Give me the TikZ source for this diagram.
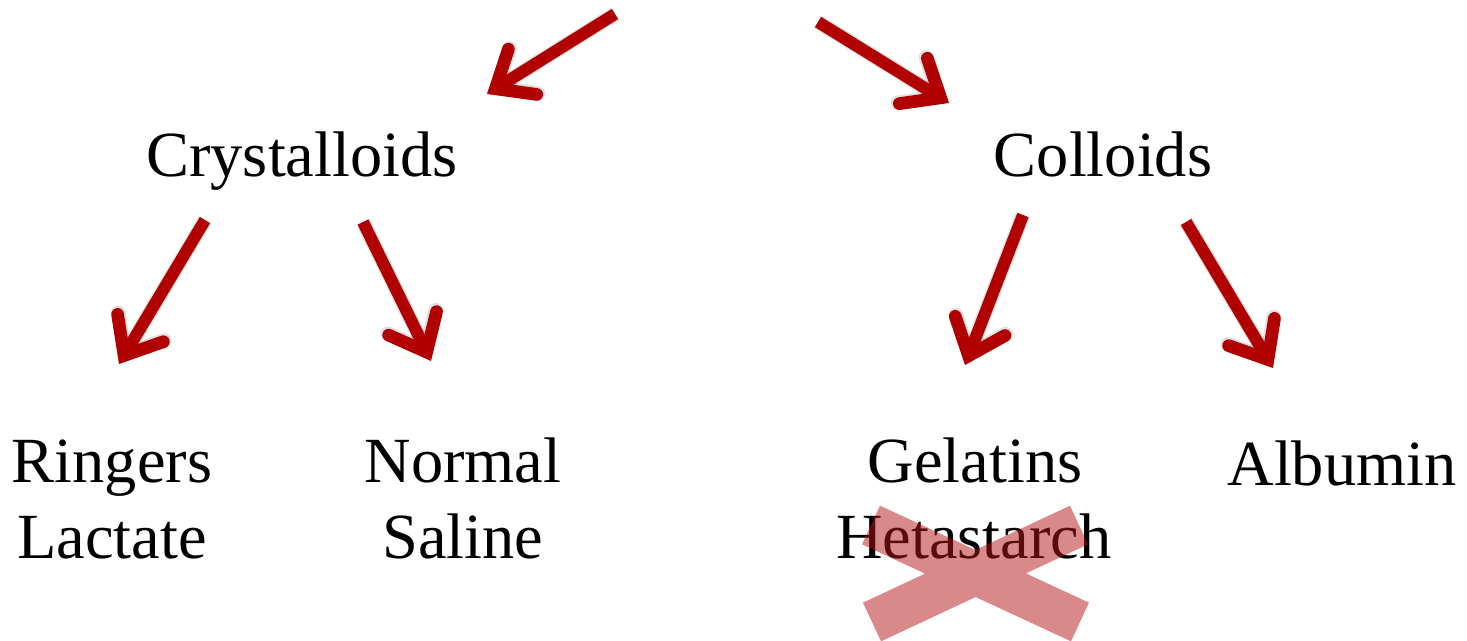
\documentclass[tikz,border=0pt]{standalone}
\usepackage{fontspec}
\setmainfont{Liberation Serif}
\usetikzlibrary{arrows.meta}
\definecolor{arrred}{RGB}{176,0,0}
\definecolor{xred}{RGB}{180,20,20}
\tikzset{
  lbl/.style={anchor=base, inner sep=0pt, font=\fontsize{48.3}{57}\selectfont},
  arr/.style={draw=arrred, line width=9pt,
    -{Straight Barb[length=24pt, width=40pt, line width=9.5pt, line cap=round, line join=miter]}},
  arrshadow/.style={draw=black, opacity=0.12, line width=11pt,
    -{Straight Barb[length=24pt, width=40pt, line width=11pt, line cap=round, line join=miter]}},
  cross/.style={draw=xred, line width=32pt, draw opacity=0.5}
}
\begin{document}
\begin{tikzpicture}[x=0.75pt, y=-0.75pt]
\useasboundingbox (0,0) rectangle (1467,641);
% labels
\node[lbl] (crys) at (302,177) {Crystalloids};
\node[lbl] (coll) at (1103,177) {Colloids};
\node[lbl] (ring) at (112,482) {Ringers};
\node[lbl] (lact) at (112,558) {Lactate};
\node[lbl] (norm) at (463,482) {Normal};
\node[lbl] (sal) at (463,558) {Saline};
\node[lbl] (gel) at (975,482) {Gelatins};
\node[lbl] (heta) at (974,558) {Hetastarch};
\node[lbl] (alb) at (1342,485) {Albumin};
% arrow endpoints
\coordinate (t1) at (615,14);   \coordinate (h1) at (487,94);
\coordinate (t2) at (818,22);   \coordinate (h2) at (949,103);
\coordinate (t3) at (205,220);  \coordinate (h3) at (119,364);
\coordinate (t4) at (363,222);  \coordinate (h4) at (431,361);
\coordinate (t5) at (1023,215); \coordinate (h5) at (965,365);
\coordinate (t6) at (1186,222); \coordinate (h6) at (1273,368);
% shadows
\foreach \i in {1,...,6}{
  \draw[arrshadow, shift={(3,4)}] (t\i) -- (h\i);
}
% arrows
\foreach \i in {1,...,6}{
  \draw[arr] (t\i) -- (h\i);
}
% cross over Hetastarch
\coordinate (xa) at (871,525); \coordinate (xb) at (1080,622);
\coordinate (xc) at (1079,525); \coordinate (xd) at (872,622);
\draw[cross] (xa) -- (xb) (xc) -- (xd);
\end{tikzpicture}
\end{document}
